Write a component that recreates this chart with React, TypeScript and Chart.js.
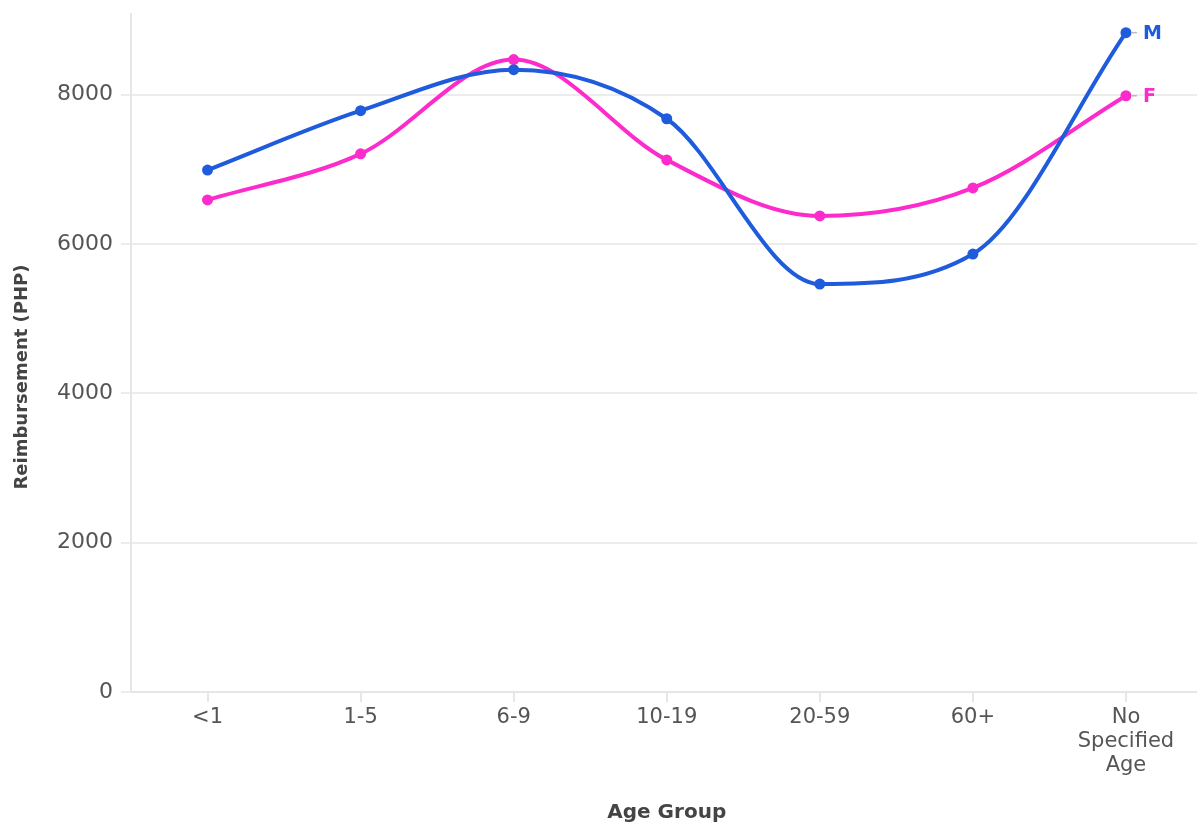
import React, { useEffect, useRef } from "react";
import { Chart, registerables } from "chart.js";

Chart.register(...registerables);

const categories: (string | string[])[] = ["<1", "1-5", "6-9", "10-19", "20-59", "60+", ["No", "Specified", "Age"]];
const maleValues = [6990, 7785, 8335, 7677, 5463, 5865, 8830];
const femaleValues = [6590, 7207, 8469, 7126, 6375, 6751, 7985];
const yTicks = [0, 2000, 4000, 6000, 8000];
const seriesNames = ["M", "F"];
const yTitle = "Reimbursement (PHP)";

const BLUE = "#1f5bdd";
const PINK = "#fd2bcb";
const FONT = "'DejaVu Sans', sans-serif";

const endLabels = {
  id: "endLabels",
  afterDatasetsDraw(chart: any) {
    const ctx = chart.ctx;
    chart.data.datasets.forEach((ds: any, i: number) => {
      const meta = chart.getDatasetMeta(i);
      const pt = meta.data[meta.data.length - 1];
      if (!pt) return;
      ctx.save();
      ctx.strokeStyle = "#bbbbbb";
      ctx.lineWidth = 1.5;
      ctx.beginPath();
      ctx.moveTo(pt.x + 6, pt.y);
      ctx.lineTo(pt.x + 11, pt.y);
      ctx.stroke();
      ctx.fillStyle = ds.borderColor;
      ctx.font = `bold 19px ${FONT}`;
      ctx.textAlign = "left";
      ctx.textBaseline = "middle";
      ctx.fillText(seriesNames[i], pt.x + 17, pt.y + 1);
      ctx.restore();
    });
  },
};

const yTitlePlugin = {
  id: "yTitlePlugin",
  afterDraw(chart: any) {
    const ctx = chart.ctx;
    const area = chart.chartArea;
    ctx.save();
    ctx.translate(22, (area.top + area.bottom) / 2 + 24);
    ctx.rotate(-Math.PI / 2);
    ctx.fillStyle = "#444444";
    ctx.font = `bold 18px ${FONT}`;
    ctx.textAlign = "center";
    ctx.textBaseline = "middle";
    ctx.fillText(yTitle, 0, 0);
    ctx.restore();
  },
};

export default function App() {
  const ref = useRef<HTMLCanvasElement>(null);
  useEffect(() => {
    if (!ref.current) return;
    const chart = new Chart(ref.current, {
      type: "line",
      data: {
        labels: categories as any,
        datasets: [
          {
            label: seriesNames[0],
            data: maleValues,
            borderColor: BLUE,
            backgroundColor: BLUE,
            borderWidth: 4,
            pointRadius: 5.5,
            pointBorderWidth: 0,
            cubicInterpolationMode: "monotone",
          },
          {
            label: seriesNames[1],
            data: femaleValues,
            borderColor: PINK,
            backgroundColor: PINK,
            borderWidth: 4,
            pointRadius: 5.5,
            pointBorderWidth: 0,
            cubicInterpolationMode: "monotone",
          },
        ],
      },
      options: {
        responsive: true,
        maintainAspectRatio: false,
        animation: false,
        layout: { padding: { top: 14, right: 0, left: 0, bottom: 0 } },
        plugins: { legend: { display: false }, tooltip: { enabled: false } },
        scales: {
          x: {
            offset: true,
            grid: { drawOnChartArea: false, drawTicks: true, tickLength: 10, color: "#e6e6e6", lineWidth: 2 },
            border: { display: true, color: "#e6e6e6", width: 2 },
            ticks: {
              color: "#555555",
              font: { family: FONT, size: 21, lineHeight: 1.15 },
              padding: 3,
              maxRotation: 0,
              autoSkip: false,
            },
            title: {
              display: true,
              text: "Age Group",
              color: "#444444",
              font: { family: FONT, size: 20, weight: "bold" },
              padding: { top: 4, bottom: 3 },
            },
            afterFit(scale: any) {
              scale.height = 136;
              scale.paddingLeft = 0;
              scale.paddingRight = 0;
            },
          },
          y: {
            min: 0,
            max: 9080,
            afterBuildTicks(scale: any) {
              scale.ticks = yTicks.map((v) => ({ value: v }));
            },
            grid: { color: "#ececec", lineWidth: 2, tickLength: 10 },
            border: { display: true, color: "#e6e6e6", width: 2 },
            ticks: {
              color: "#555555",
              font: { family: FONT, size: 22 },
              padding: 8,
              callback: (v: any) => String(v),
            },
            title: { display: false },
            afterFit(scale: any) {
              scale.width = 131;
              scale.paddingTop = 0;
              scale.paddingBottom = 0;
            },
          },
        },
      },
      plugins: [endLabels, yTitlePlugin],
    });
    return () => chart.destroy();
  }, []);
  return (
    <div style={{ position: "fixed", left: 0, top: 0, width: 1197, height: 828, overflow: "hidden", background: "#fff" }}>
      <div style={{ position: "absolute", left: 0, top: 0, width: 1208, height: 828 }}>
        <canvas ref={ref} />
      </div>
    </div>
  );
}
